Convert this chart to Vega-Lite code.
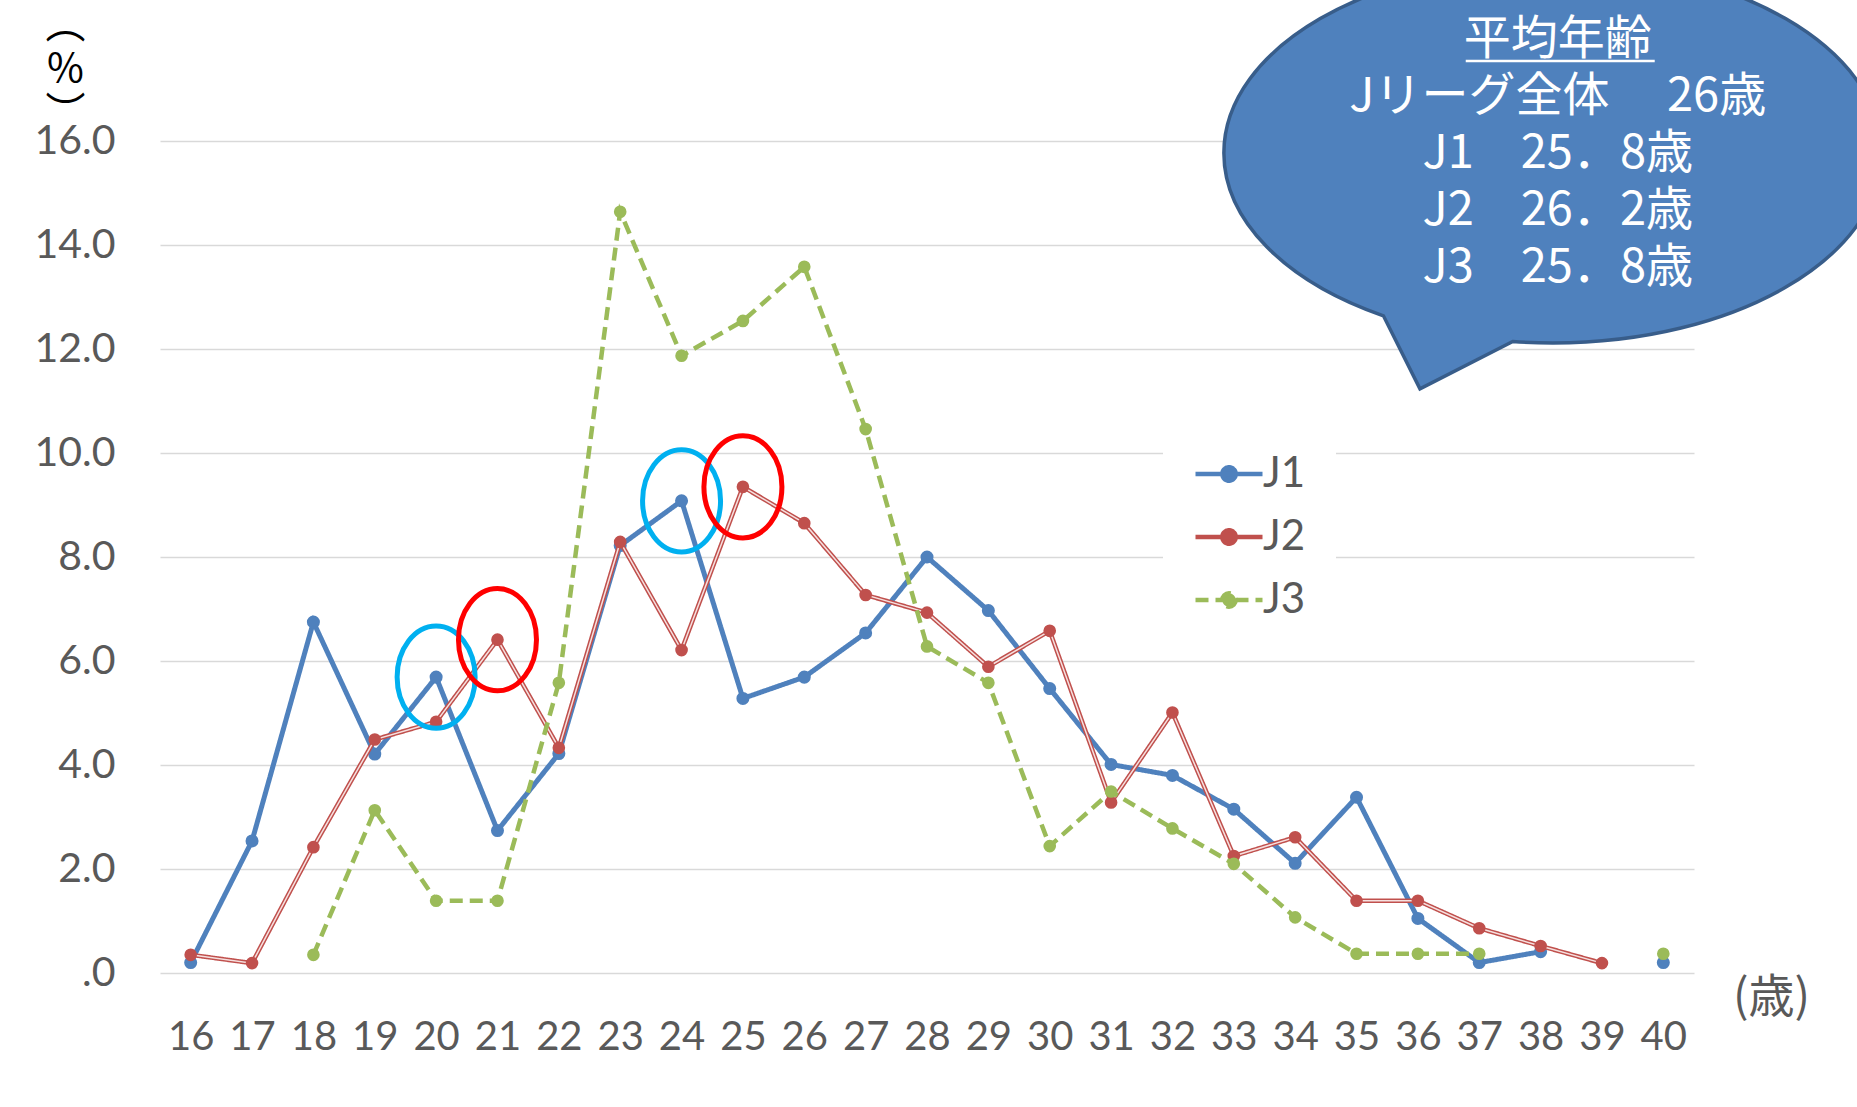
{
  "$schema": "https://vega.github.io/schema/vega-lite/v6.json",
  "width": 1534,
  "height": 832,
  "autosize": {"type": "none"},
  "padding": {"left": 160, "top": 141, "right": 163, "bottom": 134},
  "background": "white",
  "config": {"view": {"stroke": null}, "font": "Lato"},
  "data": {
    "values": [
      {"age": 16, "league": "J1", "value": 0.2},
      {"age": 17, "league": "J1", "value": 2.54},
      {"age": 18, "league": "J1", "value": 6.75},
      {"age": 19, "league": "J1", "value": 4.21},
      {"age": 20, "league": "J1", "value": 5.69},
      {"age": 21, "league": "J1", "value": 2.74},
      {"age": 22, "league": "J1", "value": 4.22},
      {"age": 23, "league": "J1", "value": 8.22},
      {"age": 24, "league": "J1", "value": 9.08},
      {"age": 25, "league": "J1", "value": 5.28},
      {"age": 26, "league": "J1", "value": 5.69},
      {"age": 27, "league": "J1", "value": 6.54},
      {"age": 28, "league": "J1", "value": 8.0},
      {"age": 29, "league": "J1", "value": 6.97},
      {"age": 30, "league": "J1", "value": 5.47},
      {"age": 31, "league": "J1", "value": 4.01},
      {"age": 32, "league": "J1", "value": 3.8},
      {"age": 33, "league": "J1", "value": 3.15},
      {"age": 34, "league": "J1", "value": 2.11},
      {"age": 35, "league": "J1", "value": 3.38},
      {"age": 36, "league": "J1", "value": 1.05},
      {"age": 37, "league": "J1", "value": 0.2},
      {"age": 38, "league": "J1", "value": 0.41},
      {"age": 39, "league": "J1", "value": null},
      {"age": 40, "league": "J1", "value": 0.2},
      {"age": 16, "league": "J2", "value": 0.35},
      {"age": 17, "league": "J2", "value": 0.19},
      {"age": 18, "league": "J2", "value": 2.42},
      {"age": 19, "league": "J2", "value": 4.49},
      {"age": 20, "league": "J2", "value": 4.83},
      {"age": 21, "league": "J2", "value": 6.41},
      {"age": 22, "league": "J2", "value": 4.33},
      {"age": 23, "league": "J2", "value": 8.29},
      {"age": 24, "league": "J2", "value": 6.21},
      {"age": 25, "league": "J2", "value": 9.35},
      {"age": 26, "league": "J2", "value": 8.65},
      {"age": 27, "league": "J2", "value": 7.27},
      {"age": 28, "league": "J2", "value": 6.93},
      {"age": 29, "league": "J2", "value": 5.89},
      {"age": 30, "league": "J2", "value": 6.58},
      {"age": 31, "league": "J2", "value": 3.28},
      {"age": 32, "league": "J2", "value": 5.01},
      {"age": 33, "league": "J2", "value": 2.25},
      {"age": 34, "league": "J2", "value": 2.61},
      {"age": 35, "league": "J2", "value": 1.39},
      {"age": 36, "league": "J2", "value": 1.39},
      {"age": 37, "league": "J2", "value": 0.86},
      {"age": 38, "league": "J2", "value": 0.52},
      {"age": 39, "league": "J2", "value": 0.19},
      {"age": 18, "league": "J3", "value": 0.35},
      {"age": 19, "league": "J3", "value": 3.13},
      {"age": 20, "league": "J3", "value": 1.39},
      {"age": 21, "league": "J3", "value": 1.39},
      {"age": 22, "league": "J3", "value": 5.58},
      {"age": 23, "league": "J3", "value": 14.64},
      {"age": 24, "league": "J3", "value": 11.87},
      {"age": 25, "league": "J3", "value": 12.54},
      {"age": 26, "league": "J3", "value": 13.58},
      {"age": 27, "league": "J3", "value": 10.46},
      {"age": 28, "league": "J3", "value": 6.28},
      {"age": 29, "league": "J3", "value": 5.58},
      {"age": 30, "league": "J3", "value": 2.44},
      {"age": 31, "league": "J3", "value": 3.49},
      {"age": 32, "league": "J3", "value": 2.78},
      {"age": 33, "league": "J3", "value": 2.1},
      {"age": 34, "league": "J3", "value": 1.07},
      {"age": 35, "league": "J3", "value": 0.37},
      {"age": 36, "league": "J3", "value": 0.37},
      {"age": 37, "league": "J3", "value": 0.37},
      {"age": 38, "league": "J3", "value": null},
      {"age": 39, "league": "J3", "value": null},
      {"age": 40, "league": "J3", "value": 0.37}
    ]
  },
  "layer": [
    {
      "encoding": {
        "x": {
          "field": "age",
          "type": "quantitative",
          "scale": {"domain": [15.5, 40.5], "nice": false, "zero": false},
          "axis": {
            "values": [16, 17, 18, 19, 20, 21, 22, 23, 24, 25, 26, 27, 28, 29, 30, 31, 32, 33, 34, 35, 36, 37, 38, 39, 40],
            "format": "d",
            "labelFont": "Lato",
            "labelFontSize": 40,
            "labelColor": "#595959",
            "labelPadding": 44,
            "labelFlush": false,
            "labelOverlap": false,
            "ticks": false,
            "domain": false,
            "grid": false,
            "title": "(歳)",
            "titleX": 1611,
            "titleY": 24,
            "titleAlign": "center",
            "titleBaseline": "middle",
            "titleFont": "Noto Sans CJK JP",
            "titleFontSize": 46,
            "titleFontWeight": "normal",
            "titleColor": "#595959"
          }
        },
        "y": {
          "field": "value",
          "type": "quantitative",
          "scale": {"domain": [0, 16], "nice": false},
          "axis": {
            "values": [0, 2, 4, 6, 8, 10, 12, 14, 16],
            "labelExpr": "datum.value == 0 ? '.0' : format(datum.value, '.1f')",
            "labelFont": "Lato",
            "labelFontSize": 41,
            "labelColor": "#595959",
            "labelPadding": 45,
            "ticks": false,
            "domain": false,
            "grid": true,
            "gridColor": "#D9D9D9",
            "gridWidth": 1.5,
            "title": ["︵", "%", "︶"],
            "titleAngle": 0,
            "titleX": -95,
            "titleY": -136,
            "titleAlign": "center",
            "titleBaseline": "top",
            "titleFont": "Noto Sans CJK JP",
            "titleFontSize": 40,
            "titleFontWeight": "normal",
            "titleColor": "#000000",
            "titleLineHeight": 44
          }
        }
      },
      "layer": [
        {
          "transform": [{"filter": "datum.league == 'J1'"}],
          "mark": {"type": "line", "strokeWidth": 5, "invalid": "break-paths-filter-domains"},
          "encoding": {
            "color": {
              "field": "league",
              "type": "nominal",
              "scale": {"domain": ["J1", "J2", "J3"], "range": ["#4F81BD", "#C0504D", "#9BBB59"]},
              "legend": {
                "title": null,
                "orient": "none",
                "legendX": 1003,
                "legendY": 267,
                "padding": 30,
                "fillColor": "white",
                "symbolType": "M -1 0 L 1 0 M 0.2 0 A 0.2 0.2 0 1 1 -0.2 0 A 0.2 0.2 0 1 1 0.2 0",
                "symbolSize": 4489,
                "symbolStrokeWidth": 4.5,
                "labelFont": "Lato",
                "labelFontSize": 42,
                "labelColor": "#595959",
                "labelOffset": -2,
                "rowPadding": 6,
                "encode": {
                  "symbols": {
                    "update": {
                      "fill": {"scale": "color", "field": "value"},
                      "stroke": {"scale": "color", "field": "value"},
                      "opacity": {"value": 1}
                    }
                  }
                }
              }
            },
            "strokeDash": {
              "field": "league",
              "type": "nominal",
              "scale": {"domain": ["J1", "J2", "J3"], "range": [[1, 0], [1, 0], [13, 7]]}
            }
          }
        },
        {
          "transform": [{"filter": "datum.league == 'J1' && datum.value != null"}],
          "mark": {"type": "point", "filled": true, "size": 170, "opacity": 1, "shape": "circle"},
          "encoding": {"color": {"field": "league", "type": "nominal", "legend": null}}
        },
        {
          "transform": [{"filter": "datum.league == 'J2'"}],
          "mark": {"type": "line", "strokeWidth": 4.5, "invalid": "break-paths-filter-domains"},
          "encoding": {
            "color": {"field": "league", "type": "nominal"},
            "strokeDash": {"field": "league", "type": "nominal"}
          }
        },
        {
          "transform": [{"filter": "datum.league == 'J2'"}],
          "mark": {"type": "line", "strokeWidth": 1.5, "color": "#F6E0DF", "invalid": "break-paths-filter-domains"}
        },
        {
          "transform": [{"filter": "datum.league == 'J2' && datum.value != null"}],
          "mark": {"type": "point", "filled": true, "size": 160, "opacity": 1, "shape": "circle"},
          "encoding": {"color": {"field": "league", "type": "nominal", "legend": null}}
        },
        {
          "transform": [{"filter": "datum.league == 'J3'"}],
          "mark": {"type": "line", "strokeWidth": 4.5, "invalid": "break-paths-filter-domains"},
          "encoding": {
            "color": {"field": "league", "type": "nominal"},
            "strokeDash": {"field": "league", "type": "nominal"}
          }
        },
        {
          "transform": [{"filter": "datum.league == 'J3' && datum.value != null"}],
          "mark": {"type": "point", "filled": true, "size": 160, "opacity": 1, "shape": "circle"},
          "encoding": {"color": {"field": "league", "type": "nominal", "legend": null}}
        },
        {
          "transform": [{"filter": "(datum.league == 'J1' && (datum.age == 20 || datum.age == 24)) || (datum.league == 'J2' && (datum.age == 21 || datum.age == 25))"}],
          "mark": {
            "type": "point",
            "filled": false,
            "opacity": 1,
            "strokeWidth": 5,
            "size": 6084,
            "shape": "M -1 0 A 1 1.31 0 1 1 1 0 A 1 1.31 0 1 1 -1 0 Z"
          },
          "encoding": {
            "stroke": {
              "condition": {"test": "datum.league == 'J1'", "value": "#00B0F0"},
              "value": "#FF0000"
            }
          }
        }
      ]
    },
    {
      "data": {"values": [{"note": "bubble"}]},
      "mark": {
        "type": "point",
        "filled": true,
        "opacity": 1,
        "fill": "#4F81BD",
        "fillOpacity": 1,
        "stroke": "#385D8A",
        "strokeOpacity": 1,
        "strokeWidth": 3.5,
        "size": 432964,
        "shape": "M -0.515 0.495 C -0.816 0.3906 -1 0.2028 -1 0 C -1 -0.319 -0.5523 -0.5775 0 -0.5775 C 0.5523 -0.5775 1 -0.319 1 0 C 1 0.319 0.5523 0.5775 0 0.5775 C -0.0407 0.5775 -0.0815 0.5761 -0.1219 0.5732 L -0.404 0.717 Z"
      },
      "encoding": {
        "x": {"datum": 38.2, "type": "quantitative"},
        "y": {"datum": 15.77, "type": "quantitative"}
      }
    },
    {
      "data": {"values": [{"note": "underline"}]},
      "mark": {"type": "rule", "color": "white", "strokeWidth": 2.5},
      "encoding": {
        "x": {"datum": 36.78, "type": "quantitative"},
        "x2": {"datum": 39.86},
        "y": {"datum": 17.54, "type": "quantitative"}
      }
    },
    {
      "data": {"values": [{"note": "text"}]},
      "mark": {
        "type": "text",
        "text": ["平均年齢", "Jリーグ全体　 26歳", "J1　25．8歳", "J2　26．2歳", "J3　25．8歳"],
        "font": "Noto Sans CJK JP",
        "fontSize": 47,
        "lineHeight": 57,
        "color": "white",
        "align": "center",
        "baseline": "middle"
      },
      "encoding": {
        "x": {"datum": 38.28, "type": "quantitative"},
        "y": {"datum": 17.94, "type": "quantitative"}
      }
    }
  ]
}
